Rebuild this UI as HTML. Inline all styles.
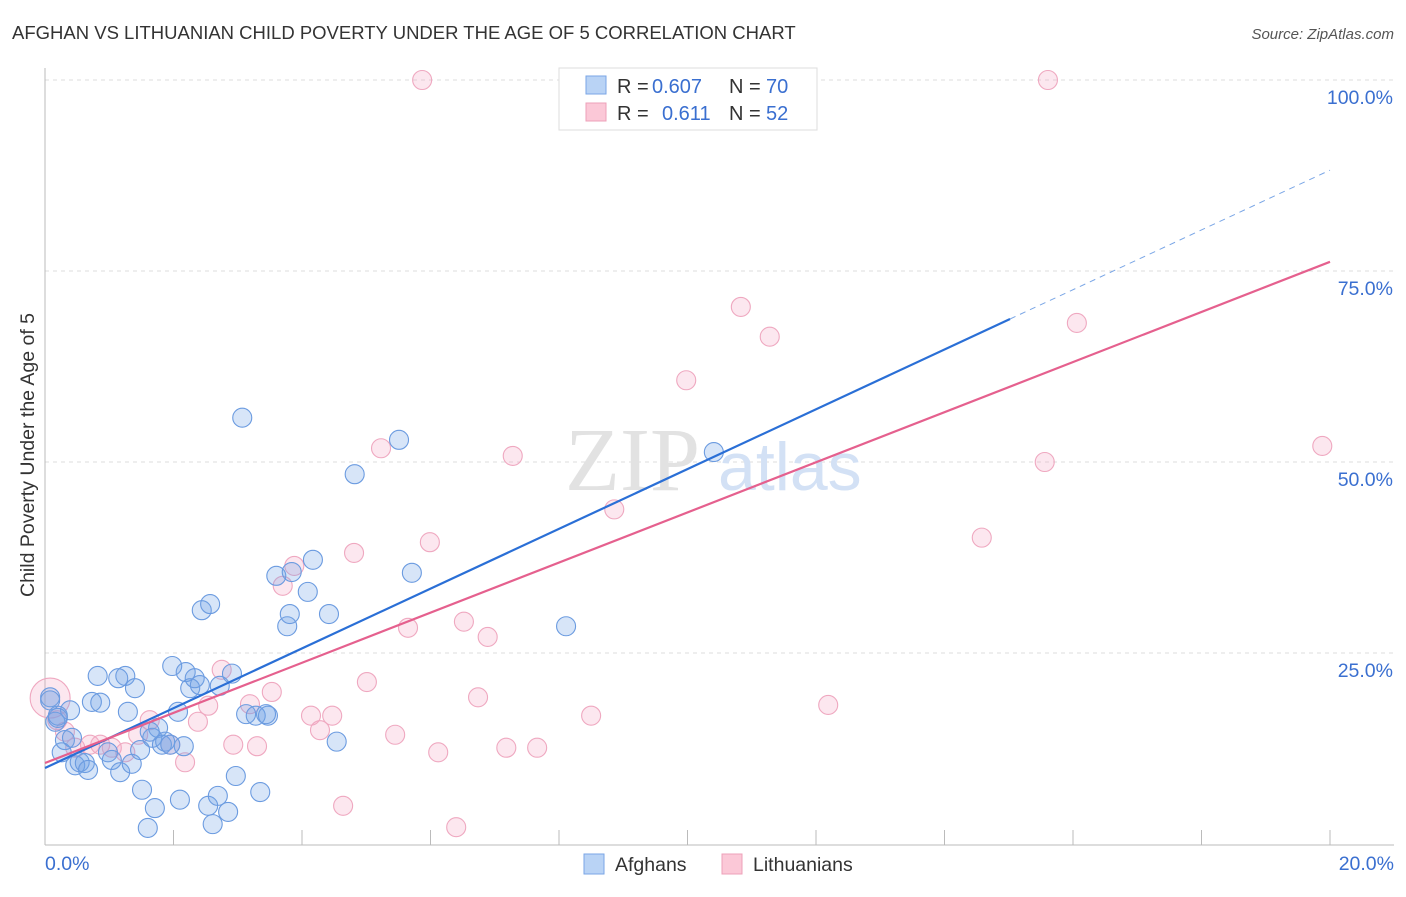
<!DOCTYPE html>
<html><head><meta charset="utf-8"><style>
body{margin:0;background:#fff;font-family:"Liberation Sans",sans-serif}
</style></head><body>
<svg width="1406" height="892" xmlns="http://www.w3.org/2000/svg">
<text x="12" y="39" font-size="18.5" fill="#333">AFGHAN VS LITHUANIAN CHILD POVERTY UNDER THE AGE OF 5 CORRELATION CHART</text>
<text x="1394" y="39" font-size="15" fill="#555" font-style="italic" text-anchor="end">Source: ZipAtlas.com</text>
<g id="grid"></g>
<g id="axes"></g>
<text x="700" y="490" font-size="90" fill="#e2e2e2" font-family="Liberation Serif" text-anchor="end">ZIP</text>
<text x="718" y="490" font-size="68" fill="#d3e1f5">atlas</text>
<g id="pts"></g>
<g id="lines"></g>
<text transform="translate(34,455) rotate(-90)" font-size="19.5" fill="#333" text-anchor="middle">Child Poverty Under the Age of 5</text>
<g>
<rect x="559" y="68" width="258" height="62" fill="#fff" stroke="#ddd"/>
<rect x="586" y="76" width="20" height="18" fill="#b9d3f5" stroke="#7aa6e6"/>
<rect x="586" y="103" width="20" height="18" fill="#fbc8d7" stroke="#eea0b8"/>
<text x="617" y="93" font-size="20" fill="#333">R =</text>
<text x="652" y="93" font-size="20" fill="#3a6fd0">0.607</text>
<text x="729" y="93" font-size="20" fill="#333">N =</text>
<text x="766" y="93" font-size="20" fill="#3a6fd0">70</text>
<text x="617" y="120" font-size="20" fill="#333">R =</text>
<text x="662" y="120" font-size="20" fill="#3a6fd0">0.611</text>
<text x="729" y="120" font-size="20" fill="#333">N =</text>
<text x="766" y="120" font-size="20" fill="#3a6fd0">52</text>
</g>
<g>
<rect x="584" y="854" width="20" height="20" fill="#b9d3f5" stroke="#7aa6e6"/>
<text x="615" y="871" font-size="19.5" fill="#333">Afghans</text>
<rect x="722" y="854" width="20" height="20" fill="#fbc8d7" stroke="#eea0b8"/>
<text x="753" y="871" font-size="19.5" fill="#333">Lithuanians</text>
</g>
</svg>
<script>
const blueX=[0.08,0.16,0.20,0.26,0.31,0.39,0.42,0.47,0.54,0.62,0.67,0.73,0.82,0.86,0.98,1.04,1.17,1.25,1.29,1.35,1.40,1.48,1.51,1.60,1.67,1.71,1.76,1.82,1.87,1.98,2.07,2.10,2.16,2.19,2.26,2.33,2.41,2.44,2.54,2.57,2.61,2.69,2.72,2.85,2.91,2.97,3.07,3.13,3.28,3.35,3.47,3.60,3.77,3.81,3.84,4.09,4.17,4.42,4.54,4.82,5.51,5.71,8.11,10.41,0.08,0.20,1.14,1.63,1.95,3.44];
const blueY=[19.2,16.0,16.8,12.0,13.6,17.5,13.9,10.3,10.7,10.6,9.7,18.6,22.0,18.5,12.0,11.0,9.4,22.0,17.3,10.5,20.4,12.3,7.1,2.1,13.9,4.7,15.2,13.0,13.4,23.3,17.3,5.8,12.8,22.5,20.4,21.7,20.8,30.6,5.0,31.4,2.6,6.3,20.7,4.2,22.3,8.9,55.8,17.0,16.8,6.8,16.8,35.1,28.5,30.1,35.6,33.0,37.2,30.1,13.4,48.4,52.9,35.5,28.5,51.3,18.8,16.5,21.7,14.7,13.0,17.0];
const pinkX=[0.08,0.19,0.31,0.47,0.70,0.86,1.04,1.25,1.45,1.63,1.95,2.18,2.38,2.54,2.75,2.93,3.19,3.30,3.53,3.70,3.88,4.14,4.28,4.47,4.64,4.81,5.01,5.23,5.45,5.65,5.99,6.12,6.40,6.52,6.74,6.89,7.18,7.28,7.66,8.22,8.50,8.86,9.98,10.83,11.28,12.19,14.58,15.56,15.61,16.06,19.88,5.87];
const pinkY=[19.1,16.2,14.7,12.6,13.0,13.0,12.6,12.0,14.3,16.2,13.0,10.7,16.0,18.1,22.8,13.0,18.3,12.8,19.9,33.8,36.4,16.8,14.9,16.8,5.0,38.1,21.2,51.8,14.3,28.3,39.5,12.0,2.2,29.1,19.2,27.1,12.6,50.8,12.6,100.1,16.8,43.8,60.7,70.3,66.4,18.2,40.1,50.0,100,68.2,52.1,100];
const blueLine=[9.95,88.2], blueSolidEnd=15.02, pinkLine=[10.6,76.2];
const yTicks=[25,50,75,100];
const xTicks=[0,2,4,6,8,10,12,14,16,18,20];
const NS='http://www.w3.org/2000/svg';
const sx=v=>45+v*64.25, sy=v=>844-v*7.64;
function mk(t,a,p){const e=document.createElementNS(NS,t);for(const k in a)e.setAttribute(k,a[k]);p.appendChild(e);return e;}
const grid=document.getElementById('grid'),axes=document.getElementById('axes'),pts=document.getElementById('pts'),lines=document.getElementById('lines');
yTicks.forEach(t=>{
 const l=mk('line',{x1:45,x2:1394,y1:sy(t),y2:sy(t),stroke:'#ddd','stroke-dasharray':'4,4'},grid);
 
 
 const tx=mk('text',{x:1393,y:sy(t)+24,'font-size':19.5,fill:'#3a6fd0','text-anchor':'end'},grid);
 tx.textContent=t.toFixed(1)+'%';
 
 
});
const ax=mk('line',{x1:45,x2:45,y1:68,y2:845,stroke:'#bbb'},axes);


const bx=mk('line',{x1:45,x2:1394,y1:845,y2:845,stroke:'#bbb'},axes);


xTicks.forEach(t=>{
 const l=mk('line',{x1:sx(t),x2:sx(t),y1:830,y2:845,stroke:'#bbb'},axes);
 
 
});
[[0,'0.0%','start',45],[20,'20.0%','end',1394]].forEach(d=>{
 const tx=mk('text',{x:d[3],y:870,'font-size':19.5,fill:'#3a6fd0','text-anchor':d[2]},axes);
 tx.textContent=d[1];
 
 
});
pinkX.forEach((x,i)=>{
 const c=mk('circle',{cx:sx(x),cy:sy(pinkY[i]),r:i==0?20:9.5,fill:'rgba(245,160,190,0.25)',stroke:'#efa8c0','stroke-width':1.1},pts);
 
 
});
blueX.forEach((x,i)=>{
 const c=mk('circle',{cx:sx(x),cy:sy(blueY[i]),r:9.5,fill:'rgba(110,160,230,0.28)',stroke:'#6b9be0','stroke-width':1.1},pts);
 
 
});
const by=x=>blueLine[0]+(blueLine[1]-blueLine[0])*x/20;
const py=x=>pinkLine[0]+(pinkLine[1]-pinkLine[0])*x/20;
const l1=mk('line',{x1:sx(0),y1:sy(by(0)),x2:sx(blueSolidEnd),y2:sy(by(blueSolidEnd)),stroke:'#2a6fd6','stroke-width':2.2},lines);


const l2=mk('line',{x1:sx(blueSolidEnd),y1:sy(by(blueSolidEnd)),x2:sx(20),y2:sy(by(20)),stroke:'#7aa6e6','stroke-width':1,'stroke-dasharray':'6,5'},lines);


const l3=mk('line',{x1:sx(0),y1:sy(py(0)),x2:sx(20),y2:sy(py(20)),stroke:'#e5608e','stroke-width':2.2},lines);


</script>
</body></html>
